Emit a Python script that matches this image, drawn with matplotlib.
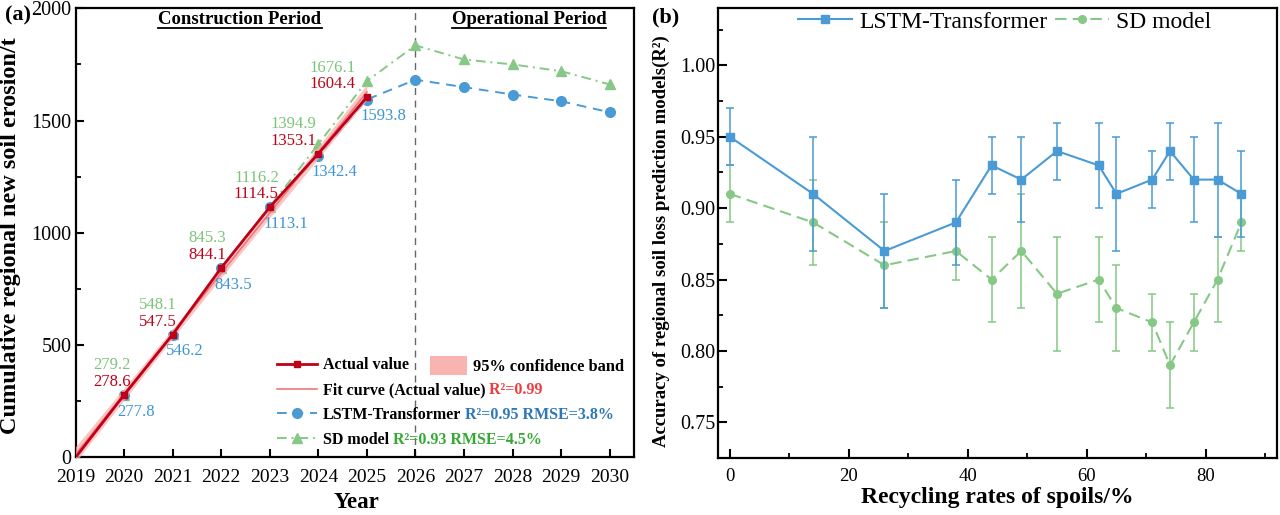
import numpy as np
import matplotlib
matplotlib.use("Agg")
import matplotlib.pyplot as plt
from matplotlib.lines import Line2D
from matplotlib.patches import Patch
from matplotlib.transforms import IdentityTransform

plt.rcParams['font.family'] = ['Liberation Serif', 'DejaVu Serif']
plt.rcParams['mathtext.fontset'] = 'stix'

# ---------------- data: panel (a) ----------------
years = [2019, 2020, 2021, 2022, 2023, 2024, 2025, 2026, 2027, 2028, 2029, 2030]
actual_years = [2019, 2020, 2021, 2022, 2023, 2024, 2025]
actual_vals = [0, 278.6, 547.5, 844.1, 1114.5, 1353.1, 1604.4]
lstm_vals = [0, 277.8, 546.2, 843.5, 1113.1, 1342.4, 1593.8, 1682, 1649, 1616, 1586, 1537]
sd_vals = [0, 279.2, 548.1, 845.3, 1116.2, 1394.9, 1676.1, 1835, 1772, 1750, 1720, 1661]
label_years = [2020, 2021, 2022, 2023, 2024, 2025]
lstm_labels = ['277.8', '546.2', '843.5', '1113.1', '1342.4', '1593.8']
actual_labels = ['278.6', '547.5', '844.1', '1114.5', '1353.1', '1604.4']
sd_labels = ['279.2', '548.1', '845.3', '1116.2', '1394.9', '1676.1']
r2_fit = '0.99'
r2_lstm, rmse_lstm = '0.95', '3.8%'
r2_sd, rmse_sd = '0.93', '4.5%'

# ---------------- data: panel (b) ----------------
recycling = [0, 14, 26, 38, 44, 49, 55, 62, 65, 71, 74, 78, 82, 86]
lstm_r2 = [0.95, 0.91, 0.87, 0.89, 0.93, 0.92, 0.94, 0.93, 0.91, 0.92, 0.94, 0.92, 0.92, 0.91]
lstm_err = [0.02, 0.04, 0.04, 0.03, 0.02, 0.03, 0.02, 0.03, 0.04, 0.02, 0.02, 0.03, 0.04, 0.03]
sd_r2 = [0.91, 0.89, 0.86, 0.87, 0.85, 0.87, 0.84, 0.85, 0.83, 0.82, 0.79, 0.82, 0.85, 0.89]
sd_err = [0.02, 0.03, 0.03, 0.02, 0.03, 0.04, 0.04, 0.03, 0.03, 0.02, 0.03, 0.02, 0.03, 0.02]

# ---------------- style ----------------
RED = '#c00018'
FIT = '#f07878'
BAND = '#f9b3b0'
BLUE = '#4a9bd5'
GREEN = '#86c886'
RED_TXT = '#f03c3c'
BLUE_TXT = '#2f78b8'
GREEN_TXT = '#35a835'
BLUE_LBL = '#3d95d6'
GREEN_LBL = '#7cc47c'

fig = plt.figure(figsize=(12.8, 5.15), dpi=100)
ax1 = fig.add_axes([0.059, 0.1117, 0.4363, 0.8722])
ax2 = fig.add_axes([0.5609, 0.1107, 0.4368, 0.8732])

# ---------------- panel (a) ----------------
xa = np.array(actual_years, dtype=float)
ya = np.array(actual_vals, dtype=float)
coef = np.polyfit(xa, ya, 1)
xf = np.linspace(xa.min(), xa.max(), 200)
yf = np.polyval(coef, xf)
resid = ya - np.polyval(coef, xa)
n = len(xa)
s = np.sqrt(np.sum(resid ** 2) / (n - 2))
tcrit = 2.571
half = tcrit * s * np.sqrt(1.0 / n + (xf - xa.mean()) ** 2 / np.sum((xa - xa.mean()) ** 2))

l_sd, = ax1.plot(years, sd_vals, color=GREEN, ls=(0, (5, 2.5, 1, 2.5)), lw=1.4,
                 marker='^', ms=7, markevery=list(range(1, len(years))), zorder=3)
l_lstm, = ax1.plot(years, lstm_vals, color=BLUE, ls=(0, (5, 3.5)), lw=1.4,
                   marker='o', ms=7, markevery=list(range(1, len(years))), zorder=4)
band = ax1.fill_between(xf, yf - half, yf + half, color=BAND, alpha=0.75, lw=0, zorder=4.5)
l_fit, = ax1.plot(xf, yf, color=FIT, lw=1.2, zorder=4.6)
l_act, = ax1.plot(actual_years, actual_vals, color=RED, lw=2.0, marker='s', ms=5,
                  markevery=list(range(1, len(actual_years))), zorder=5)

ax1.axvline(2026, color='#666666', lw=1.0, ls=(0, (5, 4)), zorder=0)

red_dx = [7, 4, 5, 9, -2, -11]
for i, yr in enumerate(label_years):
    ia = actual_years.index(yr)
    il = years.index(yr)
    ax1.annotate(actual_labels[i], xy=(yr, actual_vals[ia]), xytext=(red_dx[i], 13),
                 textcoords='offset pixels', ha='right', va='center', fontsize=12,
                 color=RED, zorder=7)
    ax1.annotate(sd_labels[i], xy=(yr, actual_vals[ia]), xytext=(red_dx[i], 29.5),
                 textcoords='offset pixels', ha='right', va='center', fontsize=12,
                 color=GREEN_LBL, zorder=7)
    ax1.annotate(lstm_labels[i], xy=(yr, lstm_vals[il]), xytext=(-6.5, -16.5),
                 textcoords='offset pixels', ha='left', va='center', fontsize=12,
                 color=BLUE_LBL, zorder=7)

ax1.set_xlim(2019, 2030.5)
ax1.set_ylim(0, 2000)
ax1.set_xticks(years)
ax1.set_yticks([0, 500, 1000, 1500, 2000])
ax1.set_yticks([250, 750, 1250, 1750], minor=True)
ax1.tick_params(axis='both', which='major', direction='in', length=6, width=1.5,
                top=False, right=False)
ax1.tick_params(axis='x', pad=8, labelsize=14)
ax1.tick_params(axis='y', pad=3, labelsize=14.5)
ax1.tick_params(axis='y', which='minor', direction='in', length=3.5, width=1.3)
for sp in ax1.spines.values():
    sp.set_linewidth(1.6)

leg1 = ax1.legend([l_act, l_fit, l_lstm, l_sd],
                  ['Actual value', 'Fit curve (Actual value)', 'LSTM-Transformer', 'SD model'],
                  loc='upper left', bbox_to_anchor=(0.361, 0.223), frameon=False,
                  prop={'weight': 'bold', 'size': 11.5}, handlelength=2.5,
                  handletextpad=0.35, labelspacing=0.55, borderaxespad=0, borderpad=0)
ax1.add_artist(leg1)
leg2 = ax1.legend([Patch(facecolor=BAND, edgecolor='none')], ['95% confidence band'],
                  loc='upper left', bbox_to_anchor=(0.634, 0.226), frameon=False,
                  prop={'weight': 'bold', 'size': 11.8}, handlelength=2.3, handleheight=1.4,
                  handletextpad=0.35, borderaxespad=0, borderpad=0)
texts = leg1.get_texts()
suffixes = [(1, ' R²=' + r2_fit, RED_TXT),
            (2, ' R²=' + r2_lstm + ' RMSE=' + rmse_lstm, BLUE_TXT),
            (3, ' R²=' + r2_sd + ' RMSE=' + rmse_sd, GREEN_TXT)]

fig.text(5 / 1280, 1 - 15 / 515, '(a)', fontsize=16, fontweight='bold', ha='left', va='center')
fig.text(11 / 1280, 1 - 236 / 515, 'Cumulative regional new soil erosion/t', rotation=90,
         fontsize=17.5, fontweight='bold', ha='center', va='center')
fig.text(356 / 1280, 1 - 503 / 515, 'Year', fontsize=16.5, fontweight='bold', ha='center', va='center')

t_con = fig.text(240 / 1280, 1 - 20 / 515, 'Construction Period', fontsize=13.5,
                 fontweight='bold', ha='center', va='center')
t_op = fig.text(529 / 1280, 1 - 20 / 515, 'Operational Period', fontsize=13.5,
                fontweight='bold', ha='center', va='center')

# ---------------- panel (b) ----------------
blue_e = matplotlib.colors.to_rgba(BLUE, 0.85)
green_e = matplotlib.colors.to_rgba(GREEN, 0.85)
eb1 = ax2.errorbar(recycling, lstm_r2, yerr=lstm_err, color=BLUE, ecolor=blue_e, lw=1.5,
                   elinewidth=1.3, capsize=3, capthick=1.3, marker='s', ms=5.5, zorder=4,
                   label='LSTM-Transformer')
eb2 = ax2.errorbar(recycling, sd_r2, yerr=sd_err, color=GREEN, ecolor=green_e, lw=1.5,
                   elinewidth=1.3, capsize=3, capthick=1.3, marker='o', ms=5.5, zorder=3,
                   ls=(0, (5.5, 3)), label='SD model')
ax2.set_xlim(-2, 92)
ax2.set_ylim(0.725, 1.04)
ax2.set_xticks([0, 20, 40, 60, 80])
ax2.set_xticks([10, 30, 50, 70, 90], minor=True)
ax2.set_yticks([0.75, 0.80, 0.85, 0.90, 0.95, 1.00])
ax2.set_yticks([0.775, 0.825, 0.875, 0.925, 0.975, 1.025], minor=True)
ax2.yaxis.set_major_formatter(matplotlib.ticker.FormatStrFormatter('%.2f'))
ax2.tick_params(axis='both', which='major', direction='in', length=6.5, width=1.5,
                top=False, right=False)
ax2.tick_params(axis='both', which='minor', direction='in', length=3.5, width=1.3,
                top=False, right=False)
ax2.tick_params(axis='x', pad=7, labelsize=13.5)
ax2.tick_params(axis='y', pad=2, labelsize=14.5)
for sp in ax2.spines.values():
    sp.set_linewidth(1.6)

h1 = Line2D([], [], color=BLUE, lw=1.5, marker='s', ms=5.5)
h2 = Line2D([], [], color=GREEN, lw=1.5, marker='o', ms=5.5, ls=(0, (5.5, 3)))
ax2.legend([h1, h2], ['LSTM-Transformer', 'SD model'], loc='upper left',
           bbox_to_anchor=(0.143, 0.994), ncol=2, frameon=False, fontsize=17,
           handlelength=2.3, handletextpad=0.3, columnspacing=0.3,
           borderaxespad=0, borderpad=0)

fig.text(652 / 1280, 1 - 17 / 515, '(b)', fontsize=16, fontweight='bold', ha='left', va='center')
fig.text(661 / 1280, 1 - 241 / 515, 'Accuracy of regional soil loss prediction models(R²)',
         rotation=90, fontsize=13.5, fontweight='bold', ha='center', va='center')
fig.text(997 / 1280, 1 - 497 / 515, 'Recycling rates of spoils/%', fontsize=17,
         fontweight='bold', ha='center', va='center')

# ---------------- finishing: suffix texts and underlines ----------------
fig.canvas.draw()
renderer = fig.canvas.get_renderer()
for idx, txt, col in suffixes:
    bb = texts[idx].get_window_extent(renderer)
    fig.text(bb.x1 / fig.bbox.width, bb.y0 / fig.bbox.height, txt, color=col,
             fontsize=11.5, fontweight='bold', ha='left', va='bottom')
for t in (t_con, t_op):
    bb = t.get_window_extent(renderer)
    yline = bb.y0 + 1
    fig.add_artist(Line2D([bb.x0, bb.x1], [yline, yline], transform=IdentityTransform(),
                          color='black', lw=1.3))

fig.savefig('out.png', dpi=100)
